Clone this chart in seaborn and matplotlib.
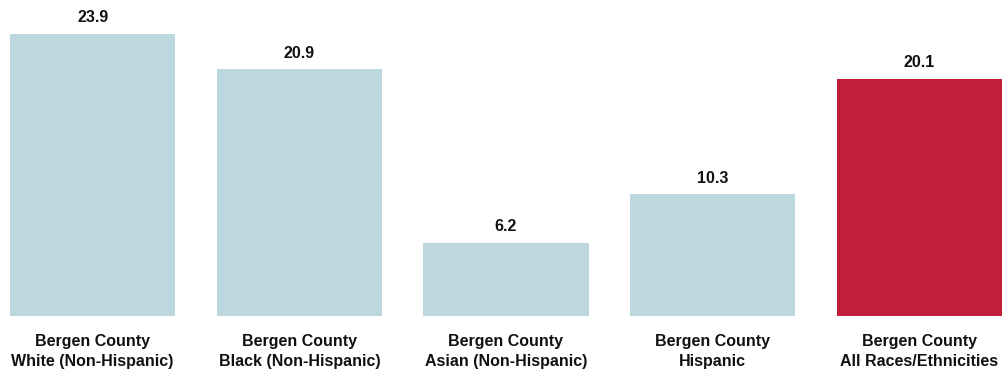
import matplotlib
matplotlib.use("Agg")
import matplotlib.pyplot as plt
import seaborn as sns
import pandas as pd

# Chart data
categories = [
    "Bergen County\nWhite (Non-Hispanic)",
    "Bergen County\nBlack (Non-Hispanic)",
    "Bergen County\nAsian (Non-Hispanic)",
    "Bergen County\nHispanic",
    "Bergen County\nAll Races/Ethnicities",
]
values = [23.9, 20.9, 6.2, 10.3, 20.1]
bar_colors = ["#BDD7DE", "#BDD7DE", "#BDD7DE", "#BDD7DE", "#C01E3A"]

df = pd.DataFrame({"group": categories, "value": values})

sns.set_style("white")
plt.rcParams["font.family"] = ["Liberation Sans Narrow", "Liberation Sans", "DejaVu Sans"]

fig = plt.figure(figsize=(10.03, 3.75), dpi=100)
ax = fig.add_axes([0, 59 / 375, 1, 26 * 11.8 / 375])

sns.barplot(data=df, x="group", y="value", hue="group", palette=bar_colors,
            legend=False, width=0.8, saturation=1, linewidth=0, ax=ax)

for i, v in enumerate(values):
    ax.text(i, v + 0.75, f"{v:.1f}", ha="center", va="bottom",
            fontsize=11.5, fontweight="bold", color="#111111")

ax.set_xlim(-0.4 - 10 / 207, 4.4 + 1 / 207)
ax.set_ylim(0, 26)
ax.set_yticks([])
ax.set_xlabel("")
ax.set_ylabel("")
ax.tick_params(axis="x", length=0, pad=13)
for lbl in ax.get_xticklabels():
    lbl.set_fontsize(11.5)
    lbl.set_fontweight("bold")
    lbl.set_color("#111111")
    lbl.set_linespacing(1.4)
for s in ax.spines.values():
    s.set_visible(False)

fig.savefig("out.png", dpi=100)
